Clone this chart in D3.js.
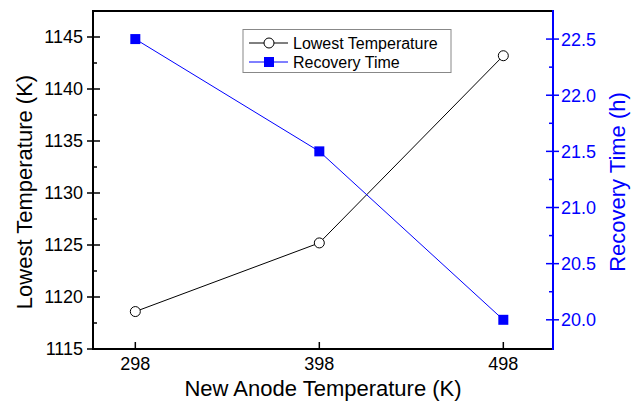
<!DOCTYPE html>
<html><head><meta charset="utf-8">
<script src="https://cdn.jsdelivr.net/npm/d3@7/dist/d3.min.js"></script>
<style>body{margin:0;background:#fff}svg{display:block;font-family:"Liberation Sans",Arial,sans-serif}</style>
</head><body><svg id="c" width="631" height="405"></svg>
<script>
const categories = [298, 398, 498];
const lowestTemp = [1118.6, 1125.2, 1143.2];
const recoveryTime = [22.5, 21.5, 20.0];
const leftTicks = [1115, 1120, 1125, 1130, 1135, 1140, 1145];
const leftMinor = [1117.5, 1122.5, 1127.5, 1132.5, 1137.5, 1142.5];
const rightTicks = [20.0, 20.5, 21.0, 21.5, 22.0, 22.5];
const rightMinor = [20.25, 20.75, 21.25, 21.75, 22.25];

const L = 93, R = 553, T = 11, B = 349;
const svg = d3.select("#c");
const x = d3.scaleLinear().domain([275, 525]).range([L, R]);
const yL = d3.scaleLinear().domain([1115, 1147.5]).range([B, T]);
const yR = d3.scaleLinear().domain([19.74, 22.75]).range([B, T]);
const blue = "#0000ff";

// lines
svg.append("path").datum(categories.map((c,i)=>[c, lowestTemp[i]]))
  .attr("fill","none").attr("stroke","#000").attr("stroke-width",1)
  .attr("d", d3.line().x(d=>x(d[0])).y(d=>yL(d[1])));
svg.append("path").datum(categories.map((c,i)=>[c, recoveryTime[i]]))
  .attr("fill","none").attr("stroke",blue).attr("stroke-width",1)
  .attr("d", d3.line().x(d=>x(d[0])).y(d=>yR(d[1])));

// markers
svg.selectAll("circle.lt").data(categories).enter().append("circle")
  .attr("cx", d=>x(d)).attr("cy",(d,i)=>yL(lowestTemp[i])).attr("r",5)
  .attr("fill","#fff").attr("stroke","#000").attr("stroke-width",1);
svg.selectAll("rect.rt").data(categories).enter().append("rect")
  .attr("x", d=>x(d)-5).attr("y",(d,i)=>yR(recoveryTime[i])-5).attr("width",10).attr("height",10)
  .attr("fill",blue);

// frame
svg.append("line").attr("x1",L).attr("x2",R).attr("y1",T).attr("y2",T).attr("stroke","#000").attr("stroke-width",2);
svg.append("line").attr("x1",L).attr("x2",R).attr("y1",B).attr("y2",B).attr("stroke","#000").attr("stroke-width",2);
svg.append("line").attr("x1",L).attr("x2",L).attr("y1",T-1).attr("y2",B+1).attr("stroke","#000").attr("stroke-width",2);
svg.append("line").attr("x1",R).attr("x2",R).attr("y1",T-1).attr("y2",B+1).attr("stroke",blue).attr("stroke-width",2);

// left ticks
const gL = svg.append("g");
leftTicks.forEach(v=>{
  gL.append("line").attr("x1",L-6).attr("x2",L+7).attr("y1",yL(v)).attr("y2",yL(v)).attr("stroke","#000").attr("stroke-width",1.5);
  gL.append("text").attr("x",L-10).attr("y",yL(v)).attr("dy","0.36em").attr("text-anchor","end")
    .attr("font-size",18).attr("fill","#000").text(v);
});
leftMinor.forEach(v=>{
  gL.append("line").attr("x1",L).attr("x2",L+4).attr("y1",yL(v)).attr("y2",yL(v)).attr("stroke","#000").attr("stroke-width",1.5);
});
// right ticks
const gR = svg.append("g");
rightTicks.forEach(v=>{
  gR.append("line").attr("x1",R-7).attr("x2",R+6).attr("y1",yR(v)).attr("y2",yR(v)).attr("stroke",blue).attr("stroke-width",1.5);
  gR.append("text").attr("x",R+8).attr("y",yR(v)).attr("dy","0.36em").attr("text-anchor","start")
    .attr("font-size",18).attr("fill",blue).text(v.toFixed(1));
});
rightMinor.forEach(v=>{
  gR.append("line").attr("x1",R-4).attr("x2",R).attr("y1",yR(v)).attr("y2",yR(v)).attr("stroke",blue).attr("stroke-width",1.5);
});
// bottom ticks
categories.forEach(v=>{
  svg.append("line").attr("x1",x(v)).attr("x2",x(v)).attr("y1",B).attr("y2",B-7).attr("stroke","#000").attr("stroke-width",1.5);
  svg.append("text").attr("x",x(v)).attr("y",B+21).attr("text-anchor","middle").attr("font-size",18).text(v);
});

// titles
svg.append("text").attr("x",323).attr("y",396).attr("text-anchor","middle").attr("font-size",22).text("New Anode Temperature (K)");
svg.append("text").attr("transform","translate(32,192) rotate(-90)").attr("text-anchor","middle").attr("font-size",22).text("Lowest Temperature (K)");
svg.append("text").attr("transform","translate(625,182) rotate(-90)").attr("text-anchor","middle").attr("font-size",22).attr("fill",blue).text("Recovery Time (h)");

// legend
const lg = svg.append("g");
lg.append("rect").attr("x",243).attr("y",29.5).attr("width",208).attr("height",43).attr("fill","#fff").attr("stroke","#888").attr("stroke-width",1);
lg.append("line").attr("x1",249).attr("x2",288).attr("y1",43).attr("y2",43).attr("stroke","#000");
lg.append("circle").attr("cx",269).attr("cy",43).attr("r",5).attr("fill","#fff").attr("stroke","#000");
lg.append("text").attr("x",293).attr("y",43).attr("dy","0.36em").attr("font-size",16).text("Lowest Temperature");
lg.append("line").attr("x1",249).attr("x2",288).attr("y1",62).attr("y2",62).attr("stroke",blue);
lg.append("rect").attr("x",264).attr("y",57).attr("width",10).attr("height",10).attr("fill",blue);
lg.append("text").attr("x",293).attr("y",62).attr("dy","0.36em").attr("font-size",16).text("Recovery Time");
</script></body></html>
